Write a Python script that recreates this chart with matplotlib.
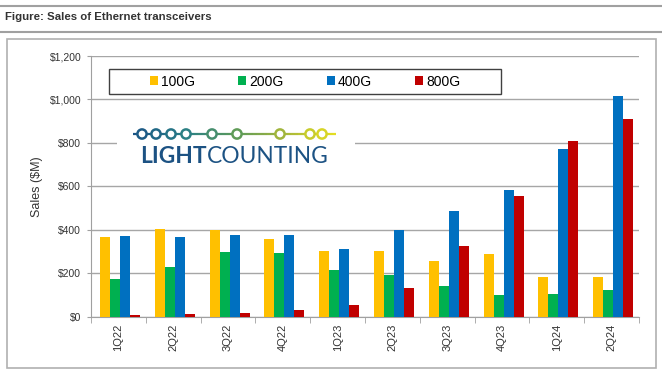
import numpy as np
import matplotlib
matplotlib.use("Agg")
import matplotlib.pyplot as plt
from matplotlib.patches import Rectangle, Circle
from matplotlib.lines import Line2D
from matplotlib.ticker import FixedLocator, FuncFormatter
from matplotlib.collections import LineCollection
import matplotlib.colors as mcolors

# Datos (ventas en $M)
trimestres = ['1Q22', '2Q22', '3Q22', '4Q22', '1Q23', '2Q23', '3Q23', '4Q23', '1Q24', '2Q24']
ventas_100g = [366, 405, 397, 357, 301, 301, 258, 289, 182, 182]
ventas_200g = [175, 229, 297, 292, 215, 192, 143, 100, 105, 123]
ventas_400g = [370, 366, 375, 378, 312, 397, 486, 584, 774, 1015]
ventas_800g = [10, 12, 15, 29, 54, 131, 324, 555, 808, 912]
series = ['100G', '200G', '400G', '800G']
colores = ['#FFC000', '#00B050', '#0070C0', '#C00000']

plt.rcParams['font.family'] = ['Liberation Sans', 'DejaVu Sans']

fig = plt.figure(figsize=(6.62, 3.74), dpi=100)
W, H = 662, 374

def fx(px):
    return px / W

def fy(py):
    return 1 - py / H

# Marco de la figura
fig.add_artist(Line2D([0, 1], [fy(6), fy(6)], color='#A0A0A0', lw=1.5))
fig.add_artist(Line2D([0, 1], [fy(32), fy(32)], color='#A0A0A0', lw=1.5))
fig.add_artist(Rectangle((fx(7), fy(368)), fx(649), (368 - 39) / H,
                         fill=False, edgecolor='#B0B0B0', lw=1.2))
fig.text(fx(5), fy(17), 'Figure: Sales of Ethernet transceivers', fontsize=8.2,
         fontweight='bold', color='#333333', va='center', ha='left')

ax = fig.add_axes([fx(91), fy(316.7), fx(639 - 91), (316.7 - 56) / H])

x = np.arange(len(trimestres))
ancho = 0.182
datos = [ventas_100g, ventas_200g, ventas_400g, ventas_800g]
for k, (vals, col, nom) in enumerate(zip(datos, colores, series)):
    ax.bar(x + (k - 1.5) * ancho + 0.03, vals, width=ancho, color=col, label=nom,
           zorder=3, linewidth=0)

ax.set_xlim(-0.5, 9.5)
ax.set_ylim(0, 1200)
ax.yaxis.set_major_locator(FixedLocator([0, 200, 400, 600, 800, 1000, 1200]))
ax.yaxis.set_major_formatter(FuncFormatter(lambda v, p: '${:,.0f}'.format(v)))
ax.grid(axis='y', color='#A6A6A6', lw=1, zorder=0)
ax.set_xticks(x)
ax.set_xticklabels(trimestres, rotation=90, fontsize=8, color='#333333')
ax.set_xticks(np.arange(-0.5, 10, 1), minor=True)
ax.tick_params(axis='x', which='major', length=0, pad=5)
ax.tick_params(axis='x', which='minor', length=4, color='#A0A0A0')
ax.tick_params(axis='y', length=3, color='#A0A0A0', labelsize=7.5, labelcolor='#333333', pad=4)
for lado in ['top', 'right']:
    ax.spines[lado].set_visible(False)
for lado in ['left', 'bottom']:
    ax.spines[lado].set_color('#A0A0A0')
ax.set_ylabel('Sales ($M)', fontsize=9, color='#333333', labelpad=5)

# Leyenda con marco
ax.add_patch(Rectangle(((109 - 91) / 548, (316.7 - 94) / 260.7), (501 - 109) / 548,
                       25 / 260.7, transform=ax.transAxes, facecolor='white',
                       edgecolor='#404040', lw=1, zorder=4))
leg = ax.legend(loc='center', bbox_to_anchor=((305 - 91) / 548, (316.7 - 81.5) / 260.7),
                ncol=4, frameon=False, fontsize=10, handlelength=0.6, handleheight=0.6,
                handletextpad=0.2, columnspacing=3.1)
leg.set_zorder(5)

# Logo LightCounting
ax.add_patch(Rectangle(((117 - 91) / 548, (316.7 - 172) / 260.7), (355 - 117) / 548,
                       50 / 260.7, transform=ax.transAxes, facecolor='white',
                       edgecolor='none', zorder=2))
mapa = mcolors.LinearSegmentedColormap.from_list(
    'lc', ['#1A5486', '#2A7F86', '#5C9A5A', '#A8B83A', '#E8E020'])
ly = (316.7 - 134) / 260.7
xs = np.linspace(133, 336, 60)
segs = [[((a - 91) / 548, ly), ((b - 91) / 548, ly)] for a, b in zip(xs[:-1], xs[1:])]
lc = LineCollection(segs, colors=[mapa((a - 133) / 203) for a in xs[:-1]], lw=1.6,
                    transform=ax.transAxes, zorder=6)
ax.add_collection(lc)
for cx in [142, 156, 171, 186, 212, 237, 280, 310, 322]:
    ax.add_patch(Circle((cx, H - 134), 4.6, transform=None, facecolor='white',
                        edgecolor=mapa((cx - 133) / 203), lw=1.8, zorder=7))
t1 = ax.text((140 - 91) / 548, (316.7 - 163) / 260.7, 'LIGHT', transform=ax.transAxes,
             fontsize=16.4, fontweight='bold', color='#1C5283', family='Lato',
             va='baseline', ha='left', zorder=7)
ax.annotate('COUNTING', xy=(1, 0), xycoords=t1, fontsize=16.4, color='#1C5283',
            family='Lato', va='bottom', ha='left', zorder=7)

fig.savefig('out.png', dpi=100)
